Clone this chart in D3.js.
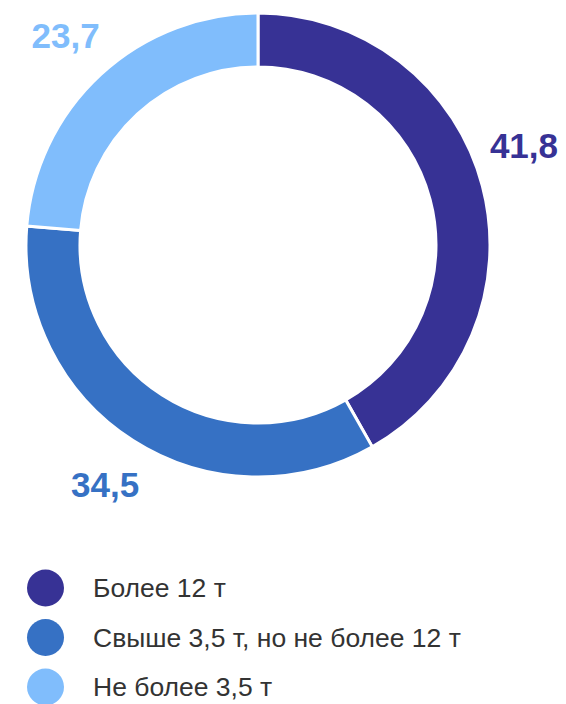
<!DOCTYPE html>
<html>
<head>
<meta charset="utf-8">
<script src="https://cdn.jsdelivr.net/npm/d3@7"></script>
<style>
  body { margin: 0; background: #fff; }
  svg { display: block; font-family: "Liberation Sans", Arial, sans-serif; }
</style>
</head>
<body>
<div id="chart"></div>
<script>
const categories = ['Более 12 т', 'Свыше 3,5 т, но не более 12 т', 'Не более 3,5 т'];
const values = [41.8, 34.5, 23.7];
const colors = ['#373295', '#3671c4', '#80bdfc'];

const width = 566, height = 704;
const cx = 258, cy = 245;
const outerR = 232, innerR = 178, labelR = 284;

const svg = d3.select('#chart').append('svg')
    .attr('width', width)
    .attr('height', height);

const data = categories.map((c, i) => ({ name: c, value: values[i], color: colors[i] }));

const pie = d3.pie().value(d => d.value).sort(null);
const arc = d3.arc().innerRadius(innerR).outerRadius(outerR);
const arcs = pie(data);

const g = svg.append('g').attr('transform', `translate(${cx},${cy})`);

g.selectAll('path')
    .data(arcs)
    .enter().append('path')
    .attr('d', arc)
    .attr('fill', d => d.data.color)
    .attr('stroke', '#fff')
    .attr('stroke-width', 3);

// labels sit on a circle round the ring; slide them along it if they would run off the page
const fmt = v => d3.format('.1f')(v).replace('.', ',');
g.selectAll('.lbl')
    .data(arcs)
    .enter().append('text')
    .attr('class', 'lbl')
    .attr('text-anchor', 'middle')
    .attr('dy', '0.35em')
    .attr('font-size', 35)
    .attr('font-weight', 'bold')
    .attr('fill', d => d.data.color)
    .text(d => fmt(d.data.value))
    .each(function(d) {
        const a = (d.startAngle + d.endAngle) / 2;
        let x = Math.sin(a) * labelR;
        let y = -Math.cos(a) * labelR;
        const half = this.getComputedTextLength() / 2;
        const maxX = width - cx - half - 8;
        const minX = -cx + half + 8;
        if (x > maxX || x < minX) {
            x = x > 0 ? maxX : minX;
            y = Math.sign(y) * Math.sqrt(labelR * labelR - x * x);
        }
        d3.select(this).attr('x', x).attr('y', y);
    });

const legend = svg.append('g').attr('transform', 'translate(45.5,588)');
const item = legend.selectAll('g')
    .data(data)
    .enter().append('g')
    .attr('transform', (d, i) => `translate(0,${i * 49.5})`);

item.append('circle')
    .attr('r', 18.5)
    .attr('fill', d => d.color);

item.append('text')
    .attr('x', 47.5)
    .attr('dy', '0.35em')
    .attr('font-size', 26.5)
    .attr('fill', '#333')
    .text(d => d.name);
</script>
</body>
</html>
